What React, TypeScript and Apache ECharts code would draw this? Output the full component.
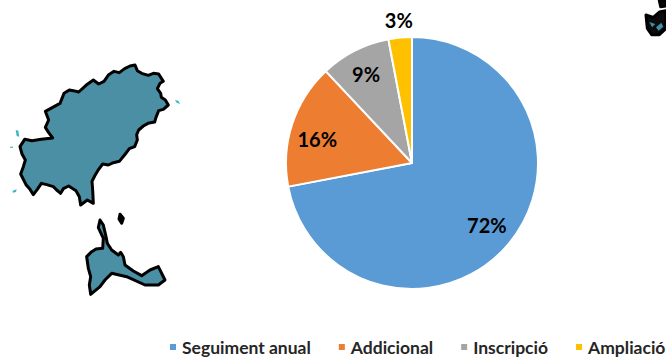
import React, { useEffect, useRef } from "react";
import * as echarts from "echarts";

const categories = ["Seguiment anual", "Addicional", "Inscripció", "Ampliació"];
const values = [72, 16, 9, 3];
const colors = ["#5B9BD5", "#ED7D31", "#A5A5A5", "#FFC000"];
const labelOffsets = [[24, 20], [-32, -4], [-16, -30], [-7, -77]];

const ibizaTrace = [[405,75],[412,92],[425,100],[445,106],[460,100],[476,102],[490,124],[480,130],[472,146],[482,160],[484,172],[496,180],[505,195],[490,208],[476,212],[468,232],[464,246],[444,250],[430,258],[416,270],[410,284],[412,300],[404,320],[388,326],[376,342],[358,364],[340,368],[325,375],[308,372],[296,388],[284,408],[276,424],[278,450],[280,490],[262,480],[242,495],[238,470],[228,452],[206,438],[190,446],[182,460],[170,450],[160,440],[140,434],[124,430],[112,448],[100,464],[90,448],[78,434],[62,402],[70,380],[76,360],[66,342],[60,320],[74,298],[96,302],[124,298],[158,294],[146,278],[136,262],[146,240],[136,214],[158,202],[180,190],[192,160],[208,150],[220,152],[236,156],[258,136],[280,120],[296,132],[312,124],[326,104],[342,94],[358,98],[374,86],[390,78]];
const formenteraTrace = [[90,45],[100,60],[108,95],[112,115],[125,135],[145,150],[152,142],[160,155],[165,180],[190,198],[215,212],[240,195],[265,185],[285,225],[265,240],[225,240],[170,215],[125,205],[105,225],[90,245],[62,268],[58,240],[62,215],[55,190],[50,155],[65,140],[78,132],[98,130],[100,100],[85,68]];
const islandletTrace = [[150,28],[160,40],[155,55],[147,42]];
const cornerTrace = [[48,45],[70,52],[88,36],[108,32],[108,85],[88,104],[65,104],[52,85]];
const cornerTop = [[88,2],[108,2],[108,18],[92,20]];
const cornerFillA = [[58,66],[76,72],[66,82]];
const cornerFillB = [[78,82],[94,68],[100,80],[86,92]];
const specks = [[[525,180],[535,182],[540,192],[530,188]],[[47,270],[55,272],[58,290],[50,288]],[[38,452],[50,448],[48,456],[38,458]],[[30,320],[40,320],[38,324],[30,323]]];

const toPts = (t: number[][], ox: number, oy: number) => t.map(([x, y]) => [ox + x / 3, oy + y / 3]);
const outline = (t: number[][], ox: number, oy: number, fill: string) => ({
  type: "polygon",
  shape: { points: toPts(t, ox, oy) },
  style: { fill, stroke: "#000", lineWidth: 3, lineJoin: "round" },
});

export default function App() {
  const ref = useRef<HTMLDivElement>(null);
  useEffect(() => {
    document.body.style.margin = "0";
    const chart = echarts.init(ref.current!, undefined, { renderer: "svg" });
    chart.setOption({
      animation: false,
      backgroundColor: "#fff",
      color: colors,
      legend: {
        show: true,
        data: categories,
        left: 163,
        top: 333,
        width: 560,
        icon: "rect",
        itemWidth: 8,
        itemHeight: 8,
        itemGap: 26,
        textStyle: { fontFamily: "Lato", fontWeight: "bold", fontSize: 17.5, color: "#262626" },
      },
      series: [
        {
          type: "pie",
          center: [412, 163],
          radius: [0, 126],
          startAngle: 90,
          clockwise: true,
          itemStyle: { borderColor: "#fff", borderWidth: 2 },
          label: {
            show: true,
            position: "inside",
            formatter: "{c}%",
            fontFamily: "Lato",
            fontWeight: "bold",
            fontSize: 20,
            color: "#000",
          },
          labelLine: { show: false },
          labelLayout: (p: any) => ({ dx: labelOffsets[p.dataIndex][0], dy: labelOffsets[p.dataIndex][1] }),
          data: categories.map((name, i) => ({ name, value: values[i] })),
        },
      ],
      graphic: [
        outline(ibizaTrace, 0, 40, "#4A8FA3"),
        outline(formenteraTrace, 70, 205, "#4A8FA3"),
        outline(islandletTrace, 70, 205, "#000"),
        outline(cornerTrace, 630, 0, "#0b0b0b"),
        outline(cornerTop, 630, 0, "#0b0b0b"),
        { type: "polygon", shape: { points: toPts(cornerFillA, 630, 0) }, style: { fill: "#3E8FA8" } },
        { type: "polygon", shape: { points: toPts(cornerFillB, 630, 0) }, style: { fill: "#3E8FA8" } },
        ...specks.map((s) => ({ type: "polygon", shape: { points: toPts(s, 0, 40) }, style: { fill: "#3DB8BE" } })),
      ],
    });
    return () => chart.dispose();
  }, []);
  return <div ref={ref} style={{ width: 666, height: 358 }} />;
}
